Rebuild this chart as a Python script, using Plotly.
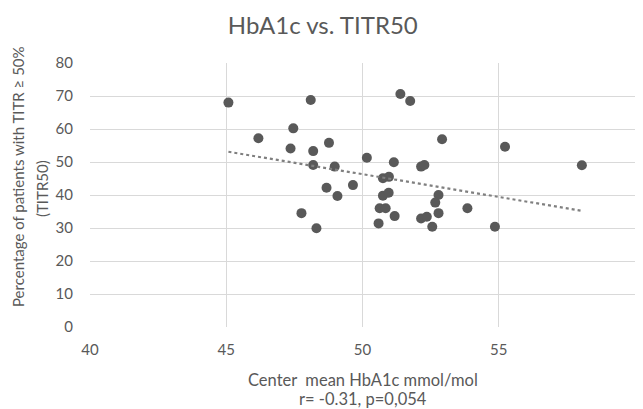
import plotly.graph_objects as go

hba1c = [45.08, 46.18, 48.1, 47.46, 47.36, 48.19, 48.77, 48.19, 48.98, 48.68,
         49.65, 49.08, 50.16, 51.39, 51.75, 51.15, 52.92, 52.15, 52.27, 50.75,
         50.97, 50.75, 50.96, 52.79, 47.76, 48.31, 50.63, 50.85, 51.18, 50.59,
         52.67, 52.79, 52.15, 52.36, 52.56, 53.85, 55.23, 58.05, 54.86]
titr50 = [68.0, 57.2, 68.8, 60.2, 54.1, 53.3, 55.8, 49.1, 48.6, 42.2,
          43.0, 39.7, 51.3, 70.6, 68.5, 49.9, 56.9, 48.6, 49.1, 45.1,
          45.5, 39.8, 40.7, 40.0, 34.5, 29.9, 36.0, 36.0, 33.6, 31.4,
          37.7, 34.5, 32.9, 33.4, 30.4, 36.0, 54.6, 49.0, 30.4]

# linear trendline end points (as drawn in the original)
trend_x = [45.08, 58.05]
trend_y = [53.1, 35.2]

x_ticks = [40, 45, 50, 55, 60]
y_ticks = [0, 10, 20, 30, 40, 50, 60, 70, 80]

title_text = "HbA1c vs. TITR50"
x_title = "Center  mean HbA1c mmol/mol"
x_subtitle = "r= -0.31, p=0,054"
y_title = "Percentage of patients with TITR ≥ 50%"
y_subtitle = "(TITR50)"

grey = "#595959"
font = "Lato, Open Sans, sans-serif"

fig = go.Figure()
fig.add_trace(go.Scatter(x=hba1c, y=titr50, mode="markers",
                         marker=dict(size=10, color="#595959"),
                         showlegend=False))
fig.add_trace(go.Scatter(x=trend_x, y=trend_y, mode="lines",
                         line=dict(color="#7f7f7f", width=2.2, dash="dot"),
                         showlegend=False))

fig.update_layout(
    width=643, height=409,
    margin=dict(l=90, r=8, t=63, b=82),
    paper_bgcolor="white", plot_bgcolor="white",
    title=dict(text=title_text, x=0.502, xanchor="center", y=0.938, yanchor="middle",
               font=dict(family=font, size=24, color=grey)),
    font=dict(family=font, color=grey, size=15),
    xaxis=dict(range=[40, 60], tickvals=x_ticks, showgrid=True,
               gridcolor="#d9d9d9", gridwidth=1, zeroline=False, showline=False,
               tickfont=dict(size=15, color=grey), ticklabelstandoff=12),
    yaxis=dict(range=[0, 80], tickvals=y_ticks, showgrid=True,
               gridcolor="#d9d9d9", gridwidth=1, zeroline=False, showline=False,
               tickfont=dict(size=15, color=grey), ticklabelstandoff=16),
    annotations=[
        dict(text=x_title, xref="paper", yref="paper", x=0.5, y=0, yanchor="middle",
             xanchor="center", yshift=-53, showarrow=False,
             font=dict(family=font, size=16.5, color=grey)),
        dict(text=x_subtitle, xref="paper", yref="paper", x=0.5, y=0, yanchor="middle",
             xanchor="center", yshift=-72, showarrow=False,
             font=dict(family=font, size=16.5, color=grey)),
        dict(text=y_title, xref="paper", yref="paper", x=0, y=0.5, xanchor="center",
             yanchor="middle", xshift=-72, yshift=18, textangle=-90, showarrow=False,
             font=dict(family=font, size=15, color=grey)),
        dict(text=y_subtitle, xref="paper", yref="paper", x=0, y=0.5, xanchor="center",
             yanchor="middle", xshift=-48, yshift=6, textangle=-90, showarrow=False,
             font=dict(family=font, size=15, color=grey)),
    ],
)

fig.write_html("out.html")
